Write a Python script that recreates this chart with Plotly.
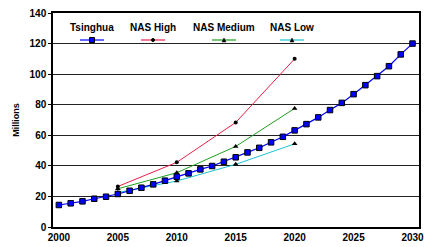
import plotly.graph_objects as go

years_t = list(range(2000, 2031))
tsinghua = [14.4, 15.5, 16.8, 18.5, 19.8, 21.6, 23.7, 25.7, 27.9, 30.3, 32.9,
            35.1, 37.7, 39.9, 42.7, 45.6, 48.8, 51.8, 55.4, 59.0, 63.2,
            67.3, 71.7, 76.5, 81.2, 86.9, 92.8, 98.7, 105.2, 112.9, 120.0]
years_nas = [2005, 2010, 2015, 2020]
nas_high = [26.5, 42.3, 68.4, 110.0]
nas_medium = [25.0, 35.5, 52.7, 77.6]
nas_low = [22.5, 30.1, 41.0, 54.4]
x_ticks = [2000, 2005, 2010, 2015, 2020, 2025, 2030]
y_ticks = [0, 20, 40, 60, 80, 100, 120, 140]

series = [
    ("NAS High", years_nas, nas_high, "#E8204C", dict(symbol="circle", size=4, color="black")),
    ("NAS Medium", years_nas, nas_medium, "#1FA01F", dict(symbol="triangle-up", size=5, color="black")),
    ("NAS Low", years_nas, nas_low, "#1EC3D2", dict(symbol="triangle-up", size=5, color="black")),
]

fig = go.Figure()
for name, xs, ys, col, mk in series:
    fig.add_trace(go.Scatter(x=xs, y=ys, mode="lines+markers", name=name,
                             line=dict(color=col, width=1), marker=mk, cliponaxis=False))
fig.add_trace(go.Scatter(x=years_t, y=tsinghua, mode="lines+markers", name="Tsinghua",
                         line=dict(color="#0000FF", width=1.2),
                         marker=dict(symbol="square", size=5.5, color="#0000FF",
                                     line=dict(color="black", width=1)), cliponaxis=False))

W, H = 432, 247
l, r, t, b = 53, 13, 13, 20
tfont = dict(family="Liberation Sans, Arial", size=10, color="black", weight="bold")
fig.update_layout(
    width=W, height=H,
    margin=dict(l=l, r=r, t=t, b=b),
    paper_bgcolor="white", plot_bgcolor="white",
    showlegend=False,
    xaxis=dict(range=[1999.5, 2030.55], tickvals=x_ticks, showgrid=False, automargin=False,
               showline=True, linecolor="black", linewidth=1.5, mirror=True,
               ticks="", tickfont=tfont, zeroline=False),
    yaxis=dict(range=[0, 140], tickvals=y_ticks, showgrid=True, gridcolor="#222", gridwidth=1,
               automargin=False,
               showline=True, linecolor="black", linewidth=1.5, mirror=True,
               ticks="outside", ticklen=3, tickcolor="black",
               tickfont=tfont,
               title=dict(text="Millions", standoff=8,
                          font=dict(family="Liberation Sans, Arial", size=9, color="black", weight="bold")),
               zeroline=False),
)

# Legend imitation: label above a short line sample with marker
legend_items = [
    ("Tsinghua", 92, "#0000FF", "square"),
    ("NAS High", 153, "#E8204C", "circle"),
    ("NAS Medium", 224, "#1FA01F", "tri"),
    ("NAS Low", 292, "#1EC3D2", "tri"),
]
pw, ph = W - l - r, H - t - b
def px(x):
    return (x - l) / pw
def py(y):
    return 1 - (y - t) / ph
for name, cx, col, sym in legend_items:
    fig.add_annotation(x=px(cx), y=py(27), xref="paper", yref="paper", text="<b>%s</b>" % name,
                       xanchor="center", yanchor="middle",
                       showarrow=False, font=dict(family="Liberation Sans, Arial", size=10, color="black"))
    fig.add_shape(type="line", xref="paper", yref="paper", x0=px(cx - 12), x1=px(cx + 12),
                  y0=py(40), y1=py(40), line=dict(color=col, width=1.2))
    if sym == "square":
        fig.add_shape(type="rect", xref="paper", yref="paper", x0=px(cx - 2.5), x1=px(cx + 2.5),
                      y0=py(42.5), y1=py(37.5), fillcolor="#0000FF", line=dict(color="black", width=1))
    elif sym == "circle":
        fig.add_shape(type="circle", xref="paper", yref="paper", x0=px(cx - 1.5), x1=px(cx + 1.5),
                      y0=py(41.5), y1=py(38.5), fillcolor="black", line=dict(color="black", width=1))
    else:
        fig.add_shape(type="path", xref="paper", yref="paper",
                      path="M %f %f L %f %f L %f %f Z" % (px(cx - 2), py(42), px(cx + 2), py(42), px(cx), py(38)),
                      fillcolor="black", line=dict(color="black", width=0.5))

fig.write_html("out.html", config={"displayModeBar": False})

# remove default page margin so the figure sits at the window's top-left
with open("out.html", encoding="utf-8") as f:
    html = f.read()
html = html.replace("<head>", "<head><style>html,body{margin:0;padding:0;overflow:hidden;}</style>", 1)
with open("out.html", "w", encoding="utf-8") as f:
    f.write(html)
